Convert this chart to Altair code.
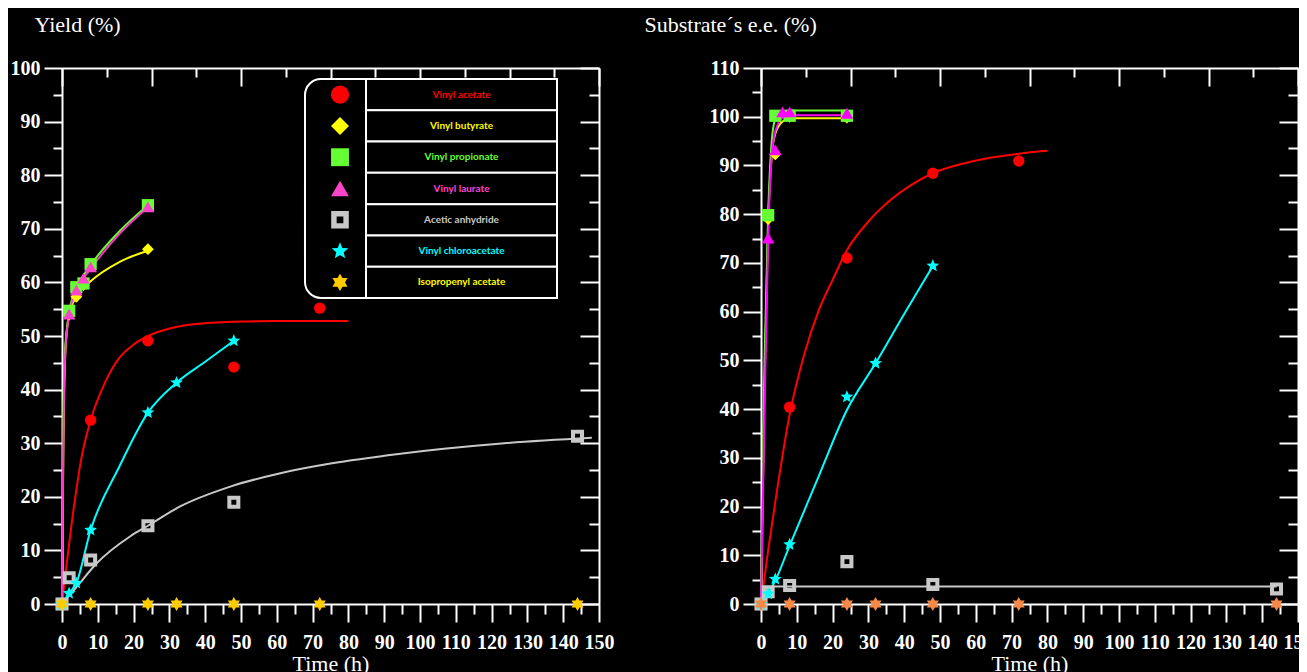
import math
import altair as alt
import pandas as pd

SERIES = ["Vinyl acetate", "Vinyl butyrate", "Vinyl propionate", "Vinyl laurate",
          "Acetic anhydride", "Vinyl chloroacetate", "Isopropenyl acetate"]

# ---------------- Left panel: Yield (%) measured points ----------------
Y_VA_T = [0, 8, 24, 48, 72]
Y_VA_V = [0, 34.3, 49.1, 44.2, 55.2]
Y_VB_T = [0, 2, 4, 6, 24]
Y_VB_V = [0, 54.0, 57.3, 59.5, 66.2]
Y_VP_T = [0, 2, 4, 6, 8, 24]
Y_VP_V = [0, 54.7, 59.1, 59.8, 63.4, 74.4]
Y_VL_T = [0, 2, 4, 6, 8, 24]
Y_VL_V = [0, 54.1, 58.6, 60.8, 62.9, 74.1]
Y_AA_T = [0, 2, 8, 24, 48, 144]
Y_AA_V = [0, 4.9, 8.2, 14.6, 19.0, 31.3]
Y_VC_T = [0, 2, 4, 8, 24, 32, 48]
Y_VC_V = [0, 2.0, 3.9, 13.8, 35.7, 41.3, 49.1]
Y_IA_T = [0, 8, 24, 32, 48, 72, 144]
Y_IA_V = [0, 0, 0, 0, 0, 0, 0]

# Left panel fitted curves
YC_VA_T = [0, 1, 2.7, 5.5, 8, 12, 16, 20, 24, 30, 40, 50, 60, 80]
YC_VA_V = [0, 5.8, 15.0, 27.5, 34.3, 41.3, 45.9, 48.4, 50.0, 51.4, 52.4, 52.7, 52.8, 52.8]
YC_VB_T = [0, 0.4, 1, 2, 4, 8, 16, 24]
YC_VB_V = [0, 30, 48, 54, 57.3, 60.2, 63.8, 65.9]
YC_VP_T = [0, 0.3, 0.7, 1.5, 2, 4, 8, 16, 24]
YC_VP_V = [0, 30, 45, 52, 54.5, 58.8, 63.2, 69.5, 74.4]
YC_VL_T = [0, 0.3, 0.8, 2, 4, 8, 16, 24]
YC_VL_V = [0, 25, 45, 54, 58.5, 62.5, 69, 74]
YC_AA_T = [0, 4.1, 9.7, 19, 24, 33, 47, 61, 75, 94, 122, 148]
YC_AA_V = [0, 3.2, 7.6, 12.6, 14.6, 18.2, 21.9, 24.4, 26.2, 28.0, 29.9, 31.0]
YC_VC_T = [0, 2, 4, 8, 16, 24, 32, 40, 48]
YC_VC_V = [0, 2.0, 3.9, 13.8, 25.6, 35.7, 41.3, 45.2, 49.1]

# ---------------- Right panel: substrate e.e. (%) measured points ----------------
E_VA_T = [0, 8, 24, 48, 72]
E_VA_V = [0, 40.4, 71.0, 88.4, 90.9]
E_VB_T = [0, 2, 4, 8, 24]
E_VB_V = [0, 79.0, 92.3, 100, 99.8]
E_VP_T = [0, 2, 4, 8, 24]
E_VP_V = [0, 79.8, 100.2, 100.2, 100.2]
E_VL_T = [0, 2, 4, 6, 8, 24]
E_VL_V = [0, 75.1, 93.2, 101.0, 101.0, 100.7]
E_AA_T = [0, 2, 8, 24, 48, 144]
E_AA_V = [0, 2.5, 3.8, 8.7, 4.0, 3.1]
E_VC_T = [0, 2, 4, 8, 24, 32, 48]
E_VC_V = [0, 2.1, 5.1, 12.2, 42.5, 49.4, 69.4]
E_IA_T = [0, 8, 24, 32, 48, 72, 144]
E_IA_V = [0, 0, 0, 0, 0, 0, 0]

# Right panel fitted curves
EC_VA_T = [0, 2, 4, 8, 12, 16, 20, 24, 30, 36, 42, 48, 56, 64, 72, 80]
EC_VA_V = [0, 11, 21, 38.9, 51, 60, 66.5, 72.6, 78.5, 82.8, 86, 88.4, 90.3, 91.6, 92.4, 93.0]
EC_VB_T = [0, 1, 2, 3, 4, 6, 8, 24]
EC_VB_V = [0, 45, 78, 92, 96.5, 99, 99.7, 99.7]
EC_VP_T = [0, 1, 2, 3, 4, 6, 8, 24]
EC_VP_V = [0, 50, 80, 95, 99.5, 101, 101.3, 101.3]
EC_VL_T = [0, 1, 2, 3, 4, 6, 8, 24]
EC_VL_V = [0, 40, 75, 92, 97, 99.8, 100.3, 100.3]
EC_AA_T = [0, 2, 4, 144]
EC_AA_V = [0, 3.3, 3.6, 3.6]
EC_VC_T = [0, 2, 4, 8, 16, 24, 32, 40, 48]
EC_VC_V = [0, 2.1, 4.8, 12.0, 26, 39.8, 49.4, 59.5, 69.4]

# ---------------- tick values ----------------
X_MAJOR = list(range(0, 151, 10))
X_MINOR = list(range(5, 150, 10))
TOP_MAJOR = [0, 25, 50, 75, 100, 125, 150]
TOP_MINOR = [12.5, 37.5, 62.5, 87.5, 112.5, 137.5]
YL_MAJOR = list(range(0, 101, 10))
YL_MINOR = list(range(5, 100, 10))
YR_MAJOR = list(range(0, 111, 10))
YR_MINOR = list(range(5, 110, 10))
RL_MAJOR = list(range(0, 101, 10))
RL_MINOR = list(range(5, 100, 10))
RR_MAJOR = [0, 11, 22, 33, 44, 55, 66, 77, 88, 99, 110]
RR_MINOR = [5.5, 16.5, 27.5, 38.5, 49.5, 60.5, 71.5, 82.5, 93.5, 104.5]

# ---------------- styles ----------------
LEFT_FILL = ["#ff0000", "#ffff00", "#66ff33", "#ff44cc", "#c8c8c8", "#00ffff", "#ffcc00"]
LEFT_LINE = ["#ff0000", "#ffff00", "#66ff33", "#ff33cc", "#c8c8c8", "#00ffff", "#ffcc00"]
RIGHT_FILL = ["#ff0000", "#ffff00", "#66ff33", "#ff00ff", "#c8c8c8", "#00ffff", "#f4894a"]
RIGHT_LINE = ["#ff0000", "#ffff00", "#66ff33", "#ff00ff", "#c8c8c8", "#00ffff", "#f4894a"]
LABEL_COLORS = ["#ff0000", "#ffff00", "#66ff33", "#ff44cc", "#c8c8c8", "#00ffff", "#ffff00"]
SIZES = [130, 190, 200, 200, 180, 260, 230]
LEGEND_SIZES = [330, 300, 300, 330, 300, 420, 360]


def star_path(n, inner):
    pts = []
    for i in range(2 * n):
        a = -math.pi / 2 + i * math.pi / n
        r = 1.0 if i % 2 == 0 else inner
        pts.append(f"{r * math.cos(a):.4f},{r * math.sin(a):.4f}")
    return "M" + " L".join(pts) + " Z"


RING = "M-1,-1H1V1H-1Z M-0.38,-0.38V0.38H0.38V-0.38Z"
SHAPES = ["circle", "diamond", "square", "triangle-up", RING, star_path(5, 0.45), star_path(6, 0.58)]

W, H = 537, 536


def frame(pairs):
    rows = []
    for name, (ts, vs) in zip(SERIES, pairs):
        for t, v in zip(ts, vs):
            rows.append({"series": name, "t": t, "v": v})
    return pd.DataFrame(rows)


left_pts = frame([(Y_VA_T, Y_VA_V), (Y_VB_T, Y_VB_V), (Y_VP_T, Y_VP_V), (Y_VL_T, Y_VL_V),
                  (Y_AA_T, Y_AA_V), (Y_VC_T, Y_VC_V), (Y_IA_T, Y_IA_V)])
left_crv = frame([(YC_VA_T, YC_VA_V), (YC_VB_T, YC_VB_V), (YC_VP_T, YC_VP_V), (YC_VL_T, YC_VL_V),
                  (YC_AA_T, YC_AA_V), (YC_VC_T, YC_VC_V), ([], [])])
right_pts = frame([(E_VA_T, E_VA_V), (E_VB_T, E_VB_V), (E_VP_T, E_VP_V), (E_VL_T, E_VL_V),
                   (E_AA_T, E_AA_V), (E_VC_T, E_VC_V), (E_IA_T, E_IA_V)])
right_crv = frame([(EC_VA_T, EC_VA_V), (EC_VB_T, EC_VB_V), (EC_VP_T, EC_VP_V), (EC_VL_T, EC_VL_V),
                   (EC_AA_T, EC_AA_V), (EC_VC_T, EC_VC_V), ([], [])])
legend_df = pd.DataFrame({"series": SERIES})


def build_legend():
    # legend table inside the left panel (pixel placement of the key box)
    ly = alt.Y("series:N", axis=None,
               scale=alt.Scale(type="band", domain=SERIES, range=[11, 230],
                               paddingInner=0, paddingOuter=0))
    box = alt.Chart(legend_df.head(1)).mark_rect(
        cornerRadius=16, fill="black", stroke="white", strokeWidth=2).encode(
        x=alt.value(243), x2=alt.value(495), y=alt.value(11), y2=alt.value(230))
    cells = alt.Chart(legend_df).mark_rect(fill="black", stroke="white", strokeWidth=2).encode(
        x=alt.value(304), x2=alt.value(495), y=ly)
    syms = alt.Chart(legend_df).mark_point(filled=True, opacity=1).encode(
        x=alt.value(278), y=ly,
        fill=alt.Fill("series:N", scale=alt.Scale(domain=SERIES, range=LEFT_FILL), legend=None),
        shape=alt.Shape("series:N", scale=alt.Scale(domain=SERIES, range=SHAPES), legend=None),
        size=alt.Size("series:N", scale=alt.Scale(domain=SERIES, range=LEGEND_SIZES), legend=None))
    labels = alt.Chart(legend_df).mark_text(font="Lato", fontSize=10, fontWeight="bold").encode(
        x=alt.value(399.5), y=ly, text="series:N",
        color=alt.Color("series:N", scale=alt.Scale(domain=SERIES, range=LABEL_COLORS), legend=None))
    return alt.layer(box, cells, syms, labels)


def panel(pts, crv, ydom, y_major, y_minor, r_major, r_minor, ytitle, ytitle_x,
          fills, lines, with_legend):
    xs = alt.Scale(domain=[0, 150], nice=False, zero=False)
    ys = alt.Scale(domain=ydom, nice=False, zero=False)

    ax_bottom = alt.Axis(orient="bottom", offset=0, values=X_MAJOR, tickSize=18,
                         labelPadding=10, labelFlush=False, labelOverlap=False,
                         title="Time (h)", titleY=59, titleBaseline="middle", zindex=0)
    ax_left = alt.Axis(orient="left", offset=0, values=y_major, tickSize=18, labelPadding=4,
                       labelOverlap=False, title=ytitle, titleAngle=0, titleAlign="left",
                       titleBaseline="middle", titleX=ytitle_x, titleY=-44, zindex=0)
    ax_bottom_minor = alt.Axis(orient="bottom", offset=0, values=X_MINOR, tickSize=10,
                               labels=False, domain=False, title=None, zindex=0)
    ax_left_minor = alt.Axis(orient="left", offset=0, values=y_minor, tickSize=9,
                             labels=False, domain=False, title=None, zindex=0)
    ax_top = alt.Axis(orient="bottom", offset=-H, values=TOP_MAJOR, tickSize=18,
                      labels=False, title=None, zindex=0)
    ax_top_minor = alt.Axis(orient="bottom", offset=-H, values=TOP_MINOR, tickSize=9,
                            labels=False, domain=False, title=None, zindex=0)
    ax_right = alt.Axis(orient="left", offset=-W, values=r_major, tickSize=19,
                        labels=False, title=None, zindex=0)
    ax_right_minor = alt.Axis(orient="left", offset=-W, values=r_minor, tickSize=10,
                              labels=False, domain=False, title=None, zindex=0)

    line_layer = alt.Chart(crv).mark_line(interpolate="monotone", strokeWidth=2).encode(
        x=alt.X("t:Q", scale=xs, axis=ax_bottom),
        y=alt.Y("v:Q", scale=ys, axis=ax_left),
        color=alt.Color("series:N", scale=alt.Scale(domain=SERIES, range=lines), legend=None),
    )

    point_layer = alt.Chart(pts).mark_point(filled=True, opacity=1).encode(
        x=alt.X("t:Q", scale=xs, axis=None),
        y=alt.Y("v:Q", scale=ys, axis=None),
        fill=alt.Fill("series:N", scale=alt.Scale(domain=SERIES, range=fills), legend=None),
        shape=alt.Shape("series:N", scale=alt.Scale(domain=SERIES, range=SHAPES), legend=None),
        size=alt.Size("series:N", scale=alt.Scale(domain=SERIES, range=SIZES), legend=None),
    )

    def axis_layer(axx, axy):
        return alt.Chart(pts).transform_filter("false").mark_point().encode(
            x=alt.X("t:Q", scale=xs, axis=axx),
            y=alt.Y("v:Q", scale=ys, axis=axy),
        )

    layers = [axis_layer(ax_bottom_minor, ax_left_minor),
              axis_layer(ax_top, ax_right),
              axis_layer(ax_top_minor, ax_right_minor),
              line_layer, point_layer]
    if with_legend:
        layers.append(build_legend())

    return alt.layer(*layers).resolve_scale(
        y="independent", fill="independent", shape="independent", size="independent",
        color="independent"
    ).resolve_axis(x="independent", y="independent").properties(width=W, height=H)


left = panel(left_pts, left_crv, [0, 100], YL_MAJOR, YL_MINOR, RL_MAJOR, RL_MINOR,
             "Yield (%)", -28, LEFT_FILL, LEFT_LINE, True)
right = panel(right_pts, right_crv, [0, 110], YR_MAJOR, YR_MINOR, RR_MAJOR, RR_MINOR,
              "Substrate\u00b4s e.e. (%)", -117, RIGHT_FILL, RIGHT_LINE, False)

PAD_L, PAD_T = 54, 60
SVG_W, SVG_H = 1291, 659
chart = alt.hconcat(left, right, spacing=162, bounds="flush").resolve_scale(
    fill="independent", shape="independent", size="independent", color="independent"
).properties(
    background="black",
    autosize=alt.AutoSizeParams(type="none"),
    padding={"left": PAD_L, "top": PAD_T, "right": SVG_W - PAD_L, "bottom": SVG_H - PAD_T},
).configure_axis(
    domainColor="white", domainWidth=2, tickColor="white", tickWidth=2,
    labelColor="white", labelFont="Liberation Serif", labelFontSize=20, labelFontWeight="bold",
    titleColor="white", titleFont="Liberation Serif", titleFontSize=22, titleFontWeight="normal",
    grid=False,
).configure_view(strokeWidth=0)

chart.save("out.html", embed_options={"renderer": "svg", "actions": False})
